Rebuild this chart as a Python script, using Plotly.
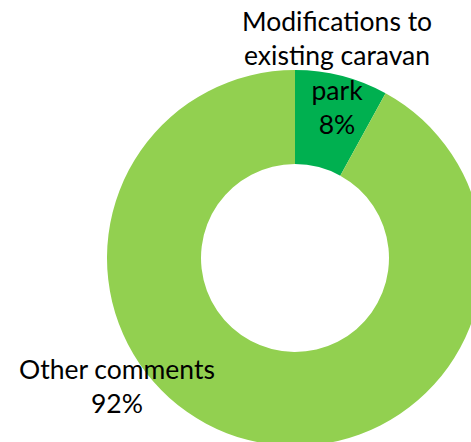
import plotly.graph_objects as go

# Share of comments by topic
labels = ["Modifications to existing caravan park", "Other comments"]
label_lines = ["Modifications to<br>existing caravan<br>park", "Other comments"]
values = [8, 92]
colors = ["#00B050", "#92D050"]

W, H = 490, 450  # canvas is a bit larger than the view so the ring bleeds off the edges

fig = go.Figure(
    go.Pie(
        labels=labels,
        values=values,
        hole=0.5,
        sort=False,
        direction="clockwise",
        rotation=0,
        textinfo="none",
        hoverinfo="label+percent",
        marker=dict(colors=colors, line=dict(width=0)),
        domain=dict(x=[107 / W, 483 / W], y=[1 - 446 / H, 1 - 70 / H]),
        showlegend=False,
    )
)

total = sum(values)
label_pos = [(337, 72), (117, 386)]
for text, v, (px, py) in zip(label_lines, values, label_pos):
    fig.add_annotation(
        x=px / W,
        y=1 - py / H,
        xref="paper",
        yref="paper",
        text=f"{text}<br>{round(100 * v / total)}%",
        showarrow=False,
        xanchor="center",
        yanchor="middle",
        align="center",
        font=dict(family="Lato", size=26.5, color="#000000"),
    )

fig.update_layout(
    width=W,
    height=H,
    margin=dict(l=0, r=0, t=0, b=0),
    paper_bgcolor="white",
    plot_bgcolor="white",
)

fig.write_html(
    "out.html",
    post_script="document.documentElement.style.overflow='hidden';document.body.style.overflow='hidden';",
)
